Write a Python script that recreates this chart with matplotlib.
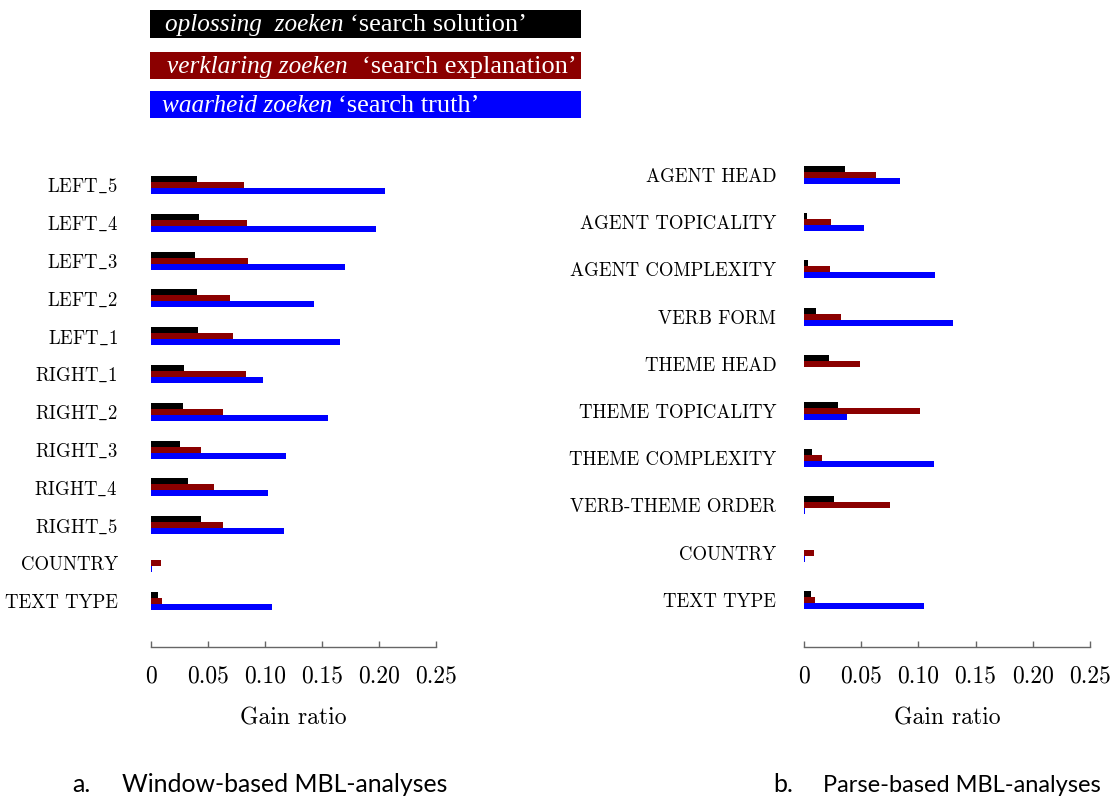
import matplotlib
matplotlib.use('Agg')
import matplotlib.pyplot as plt
from matplotlib.patches import Rectangle

W, H, DPI = 1113, 798, 100

series_dutch = ['oplossing  zoeken', 'verklaring zoeken', 'waarheid zoeken']
series_english = ['‘search solution’', '‘search explanation’', '‘search truth’']
colors = ['#000000', '#8B0000', '#0000FF']

left_categories = ['LEFT_5', 'LEFT_4', 'LEFT_3', 'LEFT_2', 'LEFT_1', 'RIGHT_1',
                   'RIGHT_2', 'RIGHT_3', 'RIGHT_4', 'RIGHT_5', 'COUNTRY', 'TEXT TYPE']
left_solution = [0.040, 0.042, 0.039, 0.040, 0.041, 0.0286, 0.028, 0.0257, 0.0327, 0.044, 0.0, 0.0058]
left_explanation = [0.082, 0.084, 0.085, 0.069, 0.0715, 0.083, 0.063, 0.044, 0.055, 0.063, 0.0088, 0.0096]
left_truth = [0.205, 0.197, 0.170, 0.143, 0.1655, 0.098, 0.155, 0.118, 0.103, 0.117, 0.001, 0.106]

right_categories = ['AGENT HEAD', 'AGENT TOPICALITY', 'AGENT COMPLEXITY', 'VERB FORM',
                    'THEME HEAD', 'THEME TOPICALITY', 'THEME COMPLEXITY',
                    'VERB-THEME ORDER', 'COUNTRY', 'TEXT TYPE']
right_solution = [0.0356, 0.003, 0.0035, 0.0105, 0.0215, 0.0299, 0.0067, 0.0262, 0.0, 0.006]
right_explanation = [0.0627, 0.0232, 0.0223, 0.0327, 0.0489, 0.1017, 0.0157, 0.0749, 0.0087, 0.0093]
right_truth = [0.0837, 0.0527, 0.1148, 0.130, 0.0, 0.0376, 0.1139, 0.001, 0.001, 0.1052]

xticks = [0, 0.05, 0.10, 0.15, 0.20, 0.25]
xticklabels = ['0', '0.05', '0.10', '0.15', '0.20', '0.25']
xlabel = 'Gain ratio'
captions = [('a.', 'Window-based MBL-analyses'), ('b.', 'Parse-based MBL-analyses')]

plt.rcParams['axes.formatter.use_mathtext'] = True
plt.rcParams['mathtext.fontset'] = 'cm'

fig = plt.figure(figsize=(W / DPI, H / DPI), dpi=DPI)


def px_rect(x0, y0, x1, y1):
    return [x0 / W, 1 - y1 / H, (x1 - x0) / W, (y1 - y0) / H]


def fx(px):
    return px / W


def fy(py):
    return 1 - py / H


def display_label(s):
    if '_' in s:
        return r'$\mathrm{' + s.replace('_', r'\_') + '}$'
    return s


def draw_panel(rect, cats, vals_list, first_center, spacing, label_pad):
    ax = fig.add_axes(px_rect(*rect))
    top_px, bot_px = rect[1], rect[3]
    n = len(cats)
    ys = list(range(n))
    h = 6.0 / spacing
    offsets = [-h, 0.0, h]
    for vals, col, off in zip(vals_list, colors, offsets):
        ax.barh([y + off for y in ys], vals, height=h, color=col, linewidth=0)
    ax.set_ylim((bot_px - first_center) / spacing, (top_px - first_center) / spacing)
    ax.set_xlim(0, 0.25)
    for s in ['left', 'top', 'right']:
        ax.spines[s].set_visible(False)
    ax.spines['bottom'].set_color('#666666')
    ax.spines['bottom'].set_linewidth(1.0)
    ax.set_xticks(xticks)
    ax.set_xticklabels(xticklabels, fontfamily='cmr10', fontsize=17)
    ax.tick_params(axis='x', direction='in', length=4.5, width=1.0, color='#666666', pad=13)
    ax.set_yticks(ys)
    ax.set_yticklabels([display_label(c) for c in cats], fontfamily='cmr10', fontsize=13.5)
    ax.tick_params(axis='y', length=0, pad=label_pad)
    ax.set_xlabel(xlabel, fontfamily='cmr10', fontsize=17, labelpad=14.5)
    ax.patch.set_visible(False)
    return ax


axL = draw_panel((151, 150, 436, 647), left_categories,
                 [left_solution, left_explanation, left_truth], 185, 37.8, 23.8)
axR = draw_panel((804, 150, 1090, 647), right_categories,
                 [right_solution, right_explanation, right_truth], 175, 47.2, 20)

# legend boxes
boxes = [(10, 38), (52, 79), (91, 118)]
dutch_x = [165, 167, 162]
eng_x = [350, 362, 338]
renderer = fig.canvas.get_renderer()
for (y0, y1), col, d, e, dx, ex in zip(boxes, colors, series_dutch, series_english, dutch_x, eng_x):
    fig.patches.append(Rectangle((fx(150), fy(y1)), fx(581) - fx(150), fy(y0) - fy(y1),
                                 transform=fig.transFigure, facecolor=col, edgecolor='none'))
    yc = fy((y0 + y1) / 2 + 1)
    fig.text(fx(dx), yc, d, color='white', fontfamily='Liberation Serif', style='italic',
             fontsize=18.2, va='center', ha='left')
    fig.text(fx(ex), yc, e, color='white', fontfamily='Liberation Serif',
             fontsize=19, va='center', ha='left')

# captions
cap_specs = [(72, 122, 448), (773, 823, 1102)]
for (lab, txt), (lx, tx, tx1) in zip(captions, cap_specs):
    fig.text(fx(lx), fy(785), lab, fontfamily='Lato', fontsize=18, va='center', ha='left')
    t = fig.text(fx(tx), fy(785), txt, fontfamily='Lato', fontsize=18, va='center', ha='left')
    w = t.get_window_extent(renderer).width
    t.set_fontsize(18 * (tx1 - tx) / w)

fig.savefig('out.png', dpi=DPI)
